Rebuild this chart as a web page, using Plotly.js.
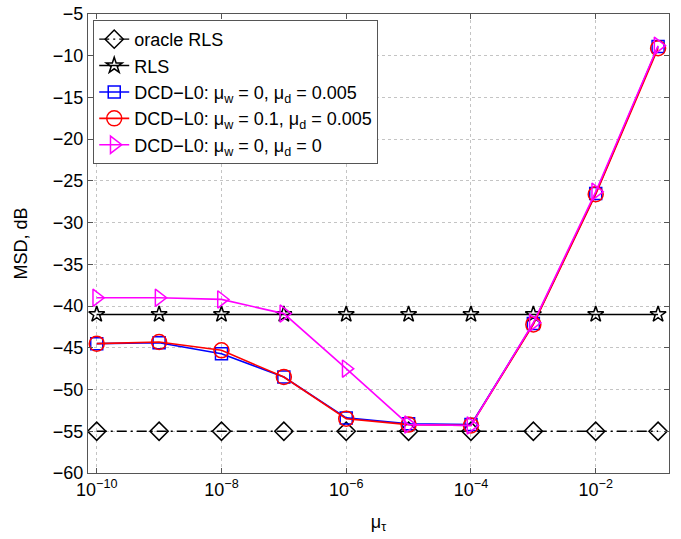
<!DOCTYPE html>
<html>
<head>
<meta charset="utf-8">
<script src="https://cdn.plot.ly/plotly-3.0.1.min.js"></script>
<style>html,body{margin:0;padding:0;background:#fff;}#chart{width:681px;height:539px;}</style>
</head>
<body>
<div id="chart"></div>
<script>
var muTau = [1e-10, 1e-9, 1e-8, 1e-7, 1e-6, 1e-5, 1e-4, 1e-3, 1e-2, 1e-1];
var oracleRLS = [-55, -55, -55, -55, -55, -55, -55, -55, -55, -55];
var rls = [-41, -41, -41, -41, -41, -41, -41, -41, -41, -41];
var dcdW0D005 = [-44.5, -44.4, -45.7, -48.5, -53.4, -54.1, -54.2, -42.1, -26.5, -8.9];
var dcdW01D005 = [-44.5, -44.3, -45.3, -48.5, -53.5, -54.2, -54.3, -42.2, -26.6, -9.1];
var dcdW0D0 = [-39.0, -39.0, -39.2, -40.9, -47.5, -54.2, -54.3, -42.0, -26.3, -8.8];
var xTickVals = [1e-10, 1e-8, 1e-6, 1e-4, 1e-2];
var xTickText = ['10<sup>−10</sup>', '10<sup>−8</sup>', '10<sup>−6</sup>', '10<sup>−4</sup>', '10<sup>−2</sup>'];
var yTickVals = [-60, -55, -50, -45, -40, -35, -30, -25, -20, -15, -10, -5];

var traces = [
  {x: muTau, y: oracleRLS, name: 'oracle RLS', mode: 'lines+markers',
   line: {color: '#000', width: 1.3, dash: '10px,4px,2px,4px'},
   marker: {symbol: 'diamond-open', size: 14, color: '#000', line: {width: 1.5}}},
  {x: muTau, y: rls, name: 'RLS', mode: 'lines+markers',
   line: {color: '#000', width: 1.6},
   marker: {symbol: 'star-open', size: 12, color: '#000', line: {width: 1.5}}},
  {x: muTau, y: dcdW0D005, name: 'DCD−L0: μ<sub>w</sub> = 0, μ<sub>d</sub> = 0.005', mode: 'lines+markers',
   line: {color: '#0000ff', width: 1.6},
   marker: {symbol: 'square-open', size: 12, color: '#0000ff', line: {width: 1.5}}},
  {x: muTau, y: dcdW01D005, name: 'DCD−L0: μ<sub>w</sub> = 0.1, μ<sub>d</sub> = 0.005', mode: 'lines+markers',
   line: {color: '#ff0000', width: 1.6},
   marker: {symbol: 'circle-open', size: 15, color: '#ff0000', line: {width: 1.5}}},
  {x: muTau, y: dcdW0D0, name: 'DCD−L0: μ<sub>w</sub> = 0, μ<sub>d</sub> = 0', mode: 'lines+markers',
   line: {color: '#ff00ff', width: 1.6},
   marker: {symbol: 'triangle-right-open', size: 15, color: '#ff00ff', line: {width: 1.5}}}
];

var layout = {
  width: 681, height: 539,
  margin: {l: 88, r: 12, t: 14, b: 66},
  paper_bgcolor: '#fff', plot_bgcolor: '#fff',
  font: {family: 'Liberation Sans, Arial, sans-serif', size: 18, color: '#000'},
  showlegend: true,
  legend: {x: 0.009, y: 0.987, xanchor: 'left', yanchor: 'top',
           bgcolor: '#fff', bordercolor: '#555', borderwidth: 1,
           font: {size: 18}, tracegroupgap: 0},
  xaxis: {type: 'log', range: [-10.14, -0.825],
          tickvals: xTickVals, ticktext: xTickText,
          ticks: 'inside', ticklen: 5, tickcolor: '#555', mirror: 'ticks',
          showline: true, linecolor: '#555', linewidth: 1,
          showgrid: true, gridcolor: '#c4c4c4', griddash: 'dot', gridwidth: 1,
          zeroline: false, tickfont: {size: 18},
          title: {text: 'μ<sub>τ</sub>', font: {size: 18}, standoff: 16}},
  yaxis: {range: [-60, -5], tickvals: yTickVals,
          ticks: 'inside', ticklen: 5, tickcolor: '#555', mirror: 'ticks',
          showline: true, linecolor: '#555', linewidth: 1,
          showgrid: true, gridcolor: '#c4c4c4', griddash: 'dot', gridwidth: 1,
          zeroline: false, tickfont: {size: 18},
          title: {text: 'MSD, dB', font: {size: 18}, standoff: 20}}
};

Plotly.newPlot('chart', traces, layout, {displayModeBar: false, staticPlot: true});
</script>
</body>
</html>
